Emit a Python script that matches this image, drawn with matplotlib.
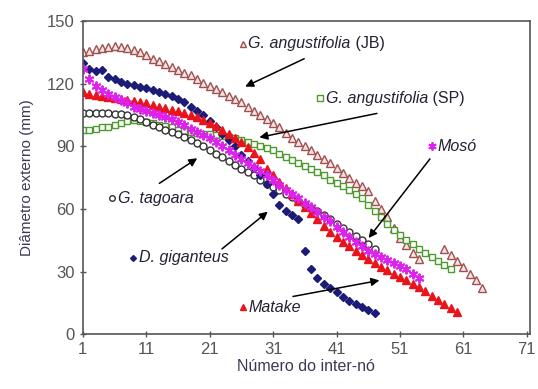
import numpy as np
import matplotlib
matplotlib.use("Agg")
import matplotlib.pyplot as plt

plt.rcParams['font.family'] = ['Liberation Sans', 'DejaVu Sans']

# internode diameters (mm)
jb_x = list(range(1, 55)) + list(range(58, 65))
jb_y = [135, 135.5, 136.5, 137, 137.5, 138, 137.5, 137, 136, 135,
        133.5, 132, 131, 129.5, 128, 126.5, 125, 124, 122, 120.5,
        119, 117.5, 116, 114, 112.5, 111, 109, 107, 105, 103,
        101, 99, 96.5, 94, 92, 90, 88, 86, 84, 82,
        79.5, 77, 75, 72.5, 71, 68.5, 64, 60, 56, 51,
        46, 42.5, 39, 36,
        41, 38, 35, 32, 29, 26, 22]

sp_x = list(range(1, 60))
sp_y = [98, 98, 98.5, 99, 99, 100, 101, 102, 102.5, 102,
        101.5, 101, 100, 99.5, 99, 98, 97.5, 97, 96.5, 96,
        96, 95.5, 95, 94.5, 94, 93, 92, 91, 90, 89,
        88, 86.5, 85, 83.5, 82, 80.5, 79, 77.5, 76, 74,
        72.5, 71, 69, 67, 65, 62, 59, 56, 53, 50,
        47.5, 45, 43, 41, 39, 37, 35, 33, 31]

tag_x = list(range(1, 48))
tag_y = [106, 106, 106, 106, 106, 105.5, 105.5, 105, 104, 103,
         101.5, 100, 99, 98, 97, 96, 94.5, 93, 91.5, 90,
         88, 86.5, 85, 83, 81, 79, 77.5, 76, 74, 72,
         70.5, 69, 67, 65.5, 64, 62, 60.5, 59, 57, 55,
         53, 51, 49, 47, 45, 43, 41]

gig_x = list(range(1, 48))
gig_y = [130, 127, 126, 126.5, 123, 122, 121, 120, 119.5, 118.5,
         118, 117, 116, 115, 114, 112.5, 111, 109, 107, 105,
         102, 99, 96, 93, 90, 86, 83, 79.5, 76, 72,
         67, 62, 59, 57, 55, 40, 31, 27, 24, 22,
         20, 18, 16, 14.5, 13, 11.5, 10]

moso_x = list(range(1, 55))
moso_y = [127, 122, 119, 117, 115, 113.5, 112, 110.5, 109, 108,
          107, 106, 105, 104, 103, 101.5, 100, 98.5, 97, 95.5,
          94, 92, 90, 88, 86, 84, 82, 80, 78, 76,
          74, 71.5, 69, 67, 65, 63, 61, 58.5, 56, 54,
          51.5, 49, 46.5, 44, 42, 40, 38.5, 37, 35.5, 34,
          32.5, 31, 29, 27]

mat_x = list(range(1, 61))
mat_y = [116, 115, 114.5, 114, 113.5, 113, 112.5, 112, 111.5, 111,
         110.5, 110, 109, 108.5, 107.5, 107, 106, 105, 104, 102.5,
         101, 99.5, 98, 96, 94, 92, 89.5, 87, 84, 79,
         76, 73, 70, 67, 64, 61, 58, 55, 52, 49,
         46.5, 44, 42, 40, 38, 36, 34, 32, 30.5, 29,
         27.5, 26, 24, 22.5, 20.5, 18.5, 16.5, 14.5, 12.5, 10.5]

brown = '#A0504F'
green = '#4E9A2F'
navy = '#1C1C78'
magenta = '#DD22EE'
red = '#E8141B'
black = '#333333'
txt = '#222233'

fig = plt.figure(figsize=(5.38, 3.89), dpi=100)
ax = fig.add_axes([0.154, 0.141, 0.831, 0.805])

ax.plot(jb_x, jb_y, ls='none', marker='^', ms=5.2, mfc='#F4E4E4', mec=brown, mew=1.0)
ax.plot(sp_x, sp_y, ls='none', marker='s', ms=5, mfc='white', mec=green, mew=1.0)
ax.plot(tag_x, tag_y, ls='none', marker='o', ms=5, mfc='white', mec=black, mew=1.0)
ax.plot(gig_x, gig_y, ls='none', marker='D', ms=4, mfc=navy, mec=navy)
ax.plot(mat_x, mat_y, ls='none', marker='^', ms=5.2, mfc=red, mec=red)
ax.plot(moso_x, moso_y, ls='none', marker=(6, 2, 0), ms=7, mec=magenta, mew=1.4)

ax.set_xlim(1, 71.5)
ax.set_ylim(0, 150)
ax.set_xticks([1, 11, 21, 31, 41, 51, 61, 71])
ax.set_yticks([0, 30, 60, 90, 120, 150])
ax.tick_params(direction='inout', length=5, width=1, colors='#555555',
               labelsize=12, labelcolor='#555555')
for s in ax.spines.values():
    s.set_color('#555555')
    s.set_linewidth(1.2)

ax.set_xlabel('Número do inter-nó', fontsize=11.5, color='#3A3A55', labelpad=1)
ax.set_ylabel('Diâmetro externo (mm)', fontsize=11, color='#3A3A55', labelpad=9)

fs = 11.5
aprops = dict(arrowstyle='-|>', color='black', lw=1.1, mutation_scale=12)


def label(x, y, name, extra, marker, ms, fc, ec, mew=1.0):
    ax.plot([x], [y], ls='none', marker=marker, ms=ms, mfc=fc, mec=ec, mew=mew)
    t = ax.text(x + 0.9, y, name, style='italic', fontsize=fs, va='center', color=txt)
    if extra:
        ax.annotate(' ' + extra, xy=(1, 0.5), xycoords=t, va='center', fontsize=fs, color=txt)


label(26.2, 139, 'G. angustifolia', '(JB)', '^', 4, '#F4E4E4', brown)
ax.annotate('', xy=(26.2, 118), xytext=(36.3, 132.5), arrowprops=aprops)

label(38.4, 113, 'G. angustifolia', '(SP)', 's', 4, 'white', green)
ax.annotate('', xy=(28.4, 94), xytext=(47.8, 106), arrowprops=aprops)

label(56, 90, 'Mosó', None, (6, 2, 0), 6, magenta, magenta, 1.3)
ax.annotate('', xy=(45.8, 45), xytext=(56, 85), arrowprops=aprops)

label(5.6, 65, 'G. tagoara', None, 'o', 4, 'white', black)
ax.annotate('', xy=(19.4, 85), xytext=(12.7, 71.5), arrowprops=aprops)

label(8.9, 36.5, 'D. giganteus', None, 'D', 3, navy, navy)
ax.annotate('', xy=(30.5, 59.5), xytext=(22.6, 40), arrowprops=aprops)

label(26.2, 13, 'Matake', None, '^', 4, red, red)
ax.annotate('', xy=(48.2, 26), xytext=(33.7, 17.8), arrowprops=aprops)

fig.savefig('out.png', dpi=100)
